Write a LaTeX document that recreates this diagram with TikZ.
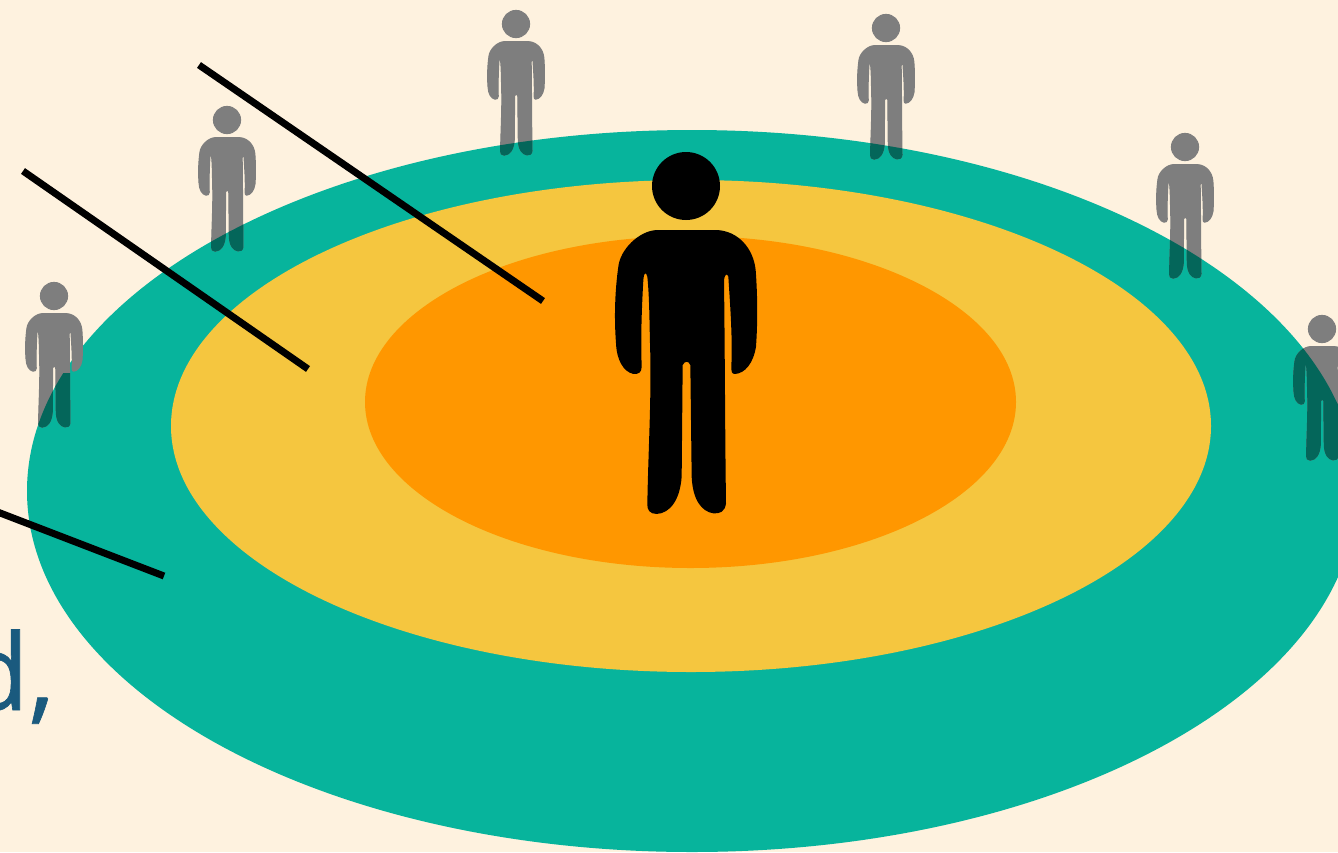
\documentclass[tikz,border=0pt]{standalone}
\usepackage{fontspec}
\setmainfont[FakeBold=0.6]{Open Sans}
\definecolor{bgc}{HTML}{FEF2DF}
\definecolor{greenc}{HTML}{07B49C}
\definecolor{yellowc}{HTML}{F5C63F}
\definecolor{orangec}{HTML}{FF9700}
\definecolor{inkc}{HTML}{1A5A7E}
\definecolor{grayc}{HTML}{7E7E7E}
\definecolor{tealc}{HTML}{04665A}
\newcommand{\personshape}{%
  (288,168) circle[radius=102]
  (200,300) -- (380,300)
  .. controls (445,303) and (490,355) .. (497,420)
  .. controls (503,500) and (503,580) .. (498,650)
  .. controls (490,700) and (465,730) .. (435,732)
  .. controls (425,732) and (424,725) .. (424,710)
  .. controls (428,620) and (420,520) .. (415,440)
  .. controls (412,430) and (405,430) .. (402,450)
  .. controls (405,700) and (405,900) .. (408,1120)
  .. controls (405,1145) and (390,1152) .. (370,1150)
  .. controls (335,1145) and (308,1110) .. (305,1040)
  -- (301,705) .. controls (295,692) and (285,692) .. (278,705)
  -- (275,1040)
  .. controls (270,1110) and (240,1150) .. (200,1152)
  .. controls (180,1152) and (170,1140) .. (172,1120)
  .. controls (175,950) and (185,800) .. (180,640)
  .. controls (178,560) and (178,500) .. (172,440)
  .. controls (168,425) and (162,425) .. (160,450)
  .. controls (155,540) and (152,620) .. (155,710)
  .. controls (155,728) and (145,733) .. (130,732)
  .. controls (100,725) and (80,690) .. (78,640)
  .. controls (72,560) and (75,480) .. (85,410)
  .. controls (90,360) and (145,303) .. (200,300) -- cycle}
% #1 head-centre x, #2 head-centre y, #3 scale, #4 path options
\newcommand{\person}[4]{%
  \begin{scope}[shift={(#1,#2)},xscale=#3,yscale=#3,shift={(-288,-168)}]
    \path[#4] \personshape;
  \end{scope}}
\tikzset{
  leader/.style={draw=black,line width=7pt},
  greyfig/.style={fill=grayc,draw=grayc,line width=1pt,line join=round},
  tealfig/.style={fill=tealc,draw=tealc,line width=1pt,line join=round},
  blackfig/.style={fill=black}
}
% #1 x, #2 y: small person, grey outside the green disc and teal on it
\newcommand{\smallperson}[2]{%
  \person{#1}{#2}{0.1333}{greyfig}
  \begin{scope}
    \clip (692,491) ellipse[x radius=665,y radius=361];
    \person{#1}{#2}{0.1333}{tealfig}
  \end{scope}}
\begin{document}
\begin{tikzpicture}[x=1pt,y=-1pt]
  \useasboundingbox (0,0) rectangle (1338,852);
  \clip (0,0) rectangle (1338,852);
  \fill[bgc] (0,0) rectangle (1338,852);
  \fill[greenc] (692,491) ellipse[x radius=665,y radius=361];
  \fill[yellowc] (691,426) ellipse[x radius=520,y radius=246];
  \fill[orangec] (690.5,402) ellipse[x radius=325.5,y radius=166];
  \smallperson{516}{24}
  \smallperson{886}{28}
  \smallperson{227}{120}
  \smallperson{1185}{147}
  \smallperson{1322}{329}
  % left person: only the legs darken on the green
  \person{54}{296}{0.1333}{greyfig}
  \begin{scope}
    \clip (692,491) ellipse[x radius=665,y radius=361];
    \clip (0,373) rectangle (120,440);
    \person{54}{296}{0.1333}{tealfig}
  \end{scope}
  \person{686}{186}{0.3333}{blackfig}
  \coordinate (a1) at (199,65);
  \coordinate (a2) at (543,301);
  \coordinate (b1) at (23,171);
  \coordinate (b2) at (308,369);
  \coordinate (c1) at (-5,511);
  \coordinate (c2) at (164,576);
  \draw[leader] (a1) -- (a2);
  \draw[leader] (b1) -- (b2);
  \draw[leader] (c1) -- (c2);
  \node[anchor=base east,inner sep=0pt,text=inkc,font=\fontsize{106}{106}\selectfont] (txt) at (55,710) {d,};
\end{tikzpicture}
\end{document}
